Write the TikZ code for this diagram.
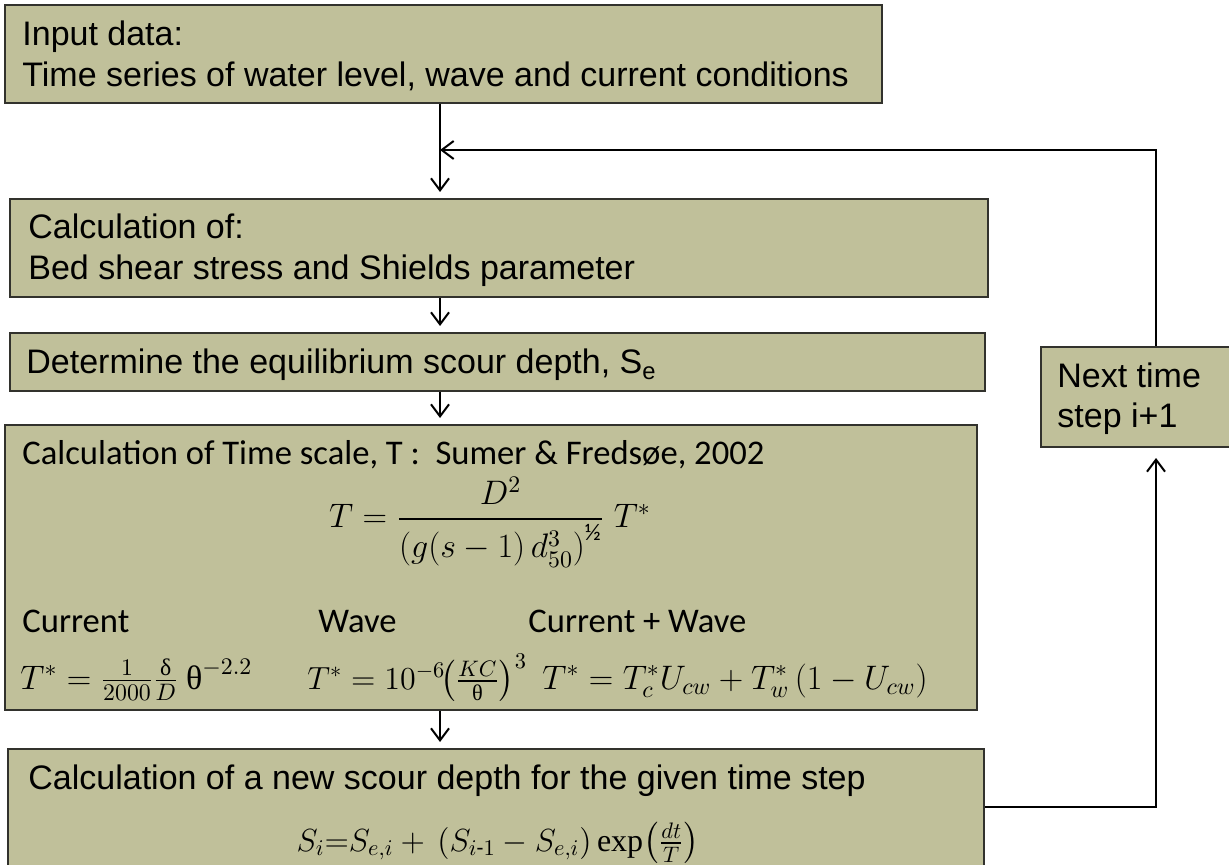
\documentclass[tikz,border=0pt]{standalone}
\usepackage{fix-cm}
\usepackage{amsmath}
\usepackage{fontspec}
\setmainfont{Liberation Sans}
\newfontfamily\calibri{Carlito}
\newfontfamily\serifgr{Liberation Serif}
\usetikzlibrary{arrows.meta,fit}
\definecolor{boxfill}{RGB}{192,192,154}
\definecolor{boxline}{RGB}{50,50,45}
\tikzset{
  box/.style={draw=boxline, line width=1pt, fill=boxfill, inner sep=0pt},
  lbl/.style={anchor=base west, inner sep=0pt, font=\fontsize{17}{20}\selectfont},
  clbl/.style={anchor=base west, inner sep=0pt, font=\calibri\fontsize{17.3}{20}\selectfont},
  mth/.style={inner sep=0pt, font=\calibri\fontsize{17}{20}\selectfont},
  arr/.style={line width=1pt, -{Straight Barb[length=6pt,width=9pt,line width=1pt]}, shorten >=3pt},
}
\begin{document}
\begin{tikzpicture}[x=0.5pt,y=-0.5pt]
\useasboundingbox (0,0) rectangle (1229,865);
\clip (0,0) rectangle (1229,865);
\fill[white] (0,0) rectangle (1229,865);
% boxes
\node[box, fit={(5,5)(882,103)}] (b1) {};
\node[box, fit={(10,199)(988,297)}] (b2) {};
\node[box, fit={(10,333)(985,391)}] (b3) {};
\node[box, fit={(5,425)(977,710)}] (b4) {};
\node[box, fit={(8,749)(984,866)}] (b5) {};
\node[box, fit={(1041,347)(1271,447)}] (nt) {};
% texts
\node[lbl] (t1a) at (22,46) {Input data:};
\node[lbl] (t1b) at (22,87) {Time series of water level, wave and current conditions};
\node[lbl] (t2a) at (28,239) {Calculation of:};
\node[lbl] (t2b) at (28,280) {Bed shear stress and Shields parameter};
\node[lbl] (t3) at (26,374) {Determine the equilibrium scour depth, S\textsubscript{e}};
\node[clbl] (t4) at (22,464) {Calculation of Time scale, T :\ \ Sumer \& Fredsøe, 2002};
\node[mth] (f1) at (490,522) {$T=\dfrac{D^{2}}{\left(g(s-1)\,d_{50}^{3}\right)^{\text{½}}}\;T^{*}$};
\node[clbl] (lc) at (22,632) {Current};
\node[clbl] (lw) at (318,632) {Wave};
\node[clbl] (lcw) at (528,632) {Current + Wave};
\node[mth, anchor=base west] (fc) at (20,689) {$T^{*}=\frac{1}{2000}\frac{\text{\serifgr δ}}{D}\ \text{\serifgr θ}^{-2.2}$};
\node[mth, anchor=base west, font=\calibri\fontsize{16}{19}\selectfont] (fw) at (307,689) {$T^{*}=10^{-6}\!\bigl(\frac{KC}{\text{\serifgr θ}}\bigr)^{3}$};
\node[mth, anchor=base west] (fcw) at (542,689) {$T^{*}=T_{c}^{*}U_{cw}+T_{w}^{*}\,(1-U_{cw})$};
\node[lbl] (t5) at (28,789) {Calculation of a new scour depth for the given time step};
\node[mth, anchor=base, font=\calibri\fontsize{16}{19}\selectfont] (f5) at (498,851) {$S_{i}{=}S_{e,i}+\,(S_{i\text{-}1}-S_{e,i})\,\text{\serifgr exp}\bigl(\frac{dt}{T}\bigr)$};
\node[lbl] (nta) at (1057,387) {Next time};
\node[lbl] (ntb) at (1057,428) {step i+1};
% connectors
\coordinate (spine) at (440,0);
\coordinate (loop) at (1156,150);
\draw[arr] (spine |- b1.south) -- (spine |- b2.north);
\draw[arr] (spine |- b2.south) -- (spine |- b3.north);
\draw[arr] (spine |- b3.south) -- (spine |- b4.north);
\draw[arr] (spine |- b4.south) -- (spine |- b5.north);
\draw[arr, shorten >=0pt] (nt.north) |- (spine |- loop);
\draw[arr, shorten >=5pt] (b5.east |- 0,807) -| (nt.south);
\end{tikzpicture}
\end{document}
